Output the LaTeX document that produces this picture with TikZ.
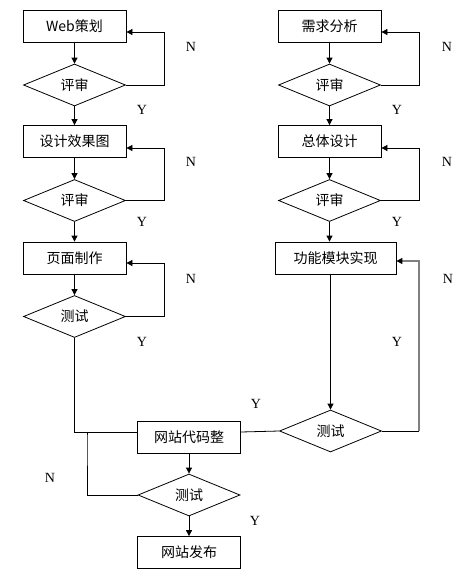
\documentclass[tikz,border=0pt]{standalone}
\usepackage{fontspec}
\setmainfont{Liberation Serif}
\newfontfamily\cjk{Noto Sans CJK SC}
\usetikzlibrary{shapes.geometric,arrows.meta}
\tikzset{
	box/.style={draw,rectangle,minimum width=103pt,minimum height=32pt,inner sep=0pt,font=\cjk\fontsize{14}{16}\selectfont},
	check/.style={draw,diamond,minimum width=102pt,minimum height=42pt,inner sep=0pt,font=\cjk\fontsize{14}{16}\selectfont},
	flow/.style={-{Triangle[length=6pt,width=6pt,color=black]}},
	yn/.style={font=\fontsize{14}{16}\selectfont}
}
\begin{document}
\begin{tikzpicture}[x=1pt,y=-1pt,line width=0.8pt]
	\useasboundingbox (0,0) rectangle (470,576);
	%left column
	\node[box] (plan) at (74.5,26.5) {Web策划};
	\node[check] (rev1) at (74.5,85) {评审};
	\node[box] (design) at (74.5,141.5) {设计效果图};
	\node[check] (rev2) at (74.5,200.5) {评审};
	\node[box] (page) at (74.5,258) {页面制作};
	\node[check] (test1) at (74.5,316.5) {测试};
	%right column
	\node[box] (need) at (329.5,26) {需求分析};
	\node[check] (rev3) at (329.5,85) {评审};
	\node[box] (arch) at (329.5,141.5) {总体设计};
	\node[check] (rev4) at (329.5,200.5) {评审};
	\node[box,minimum width=121pt] (func) at (335.5,258) {功能模块实现};
	\node[check] (test2) at (330.5,431) {测试};
	%bottom
	\node[box] (merge) at (189,437) {网站代码整};
	\node[check] (test3) at (189,495) {测试};
	\node[box] (pub) at (189,552.5) {网站发布};

	\draw[flow] (plan) -- (rev1);
	\draw[flow] (rev1) -- (design);
	\draw[flow] (design) -- (rev2);
	\draw[flow] (rev2) -- (page);
	\draw[flow] (page) -- (test1);
	\draw[flow] (rev1.east) -- ++(38,0) |- ([yshift=-5.5pt]plan.east);
	\draw[flow] (rev2.east) -- ++(38,0) |- ([yshift=-6.5pt]design.east);
	\draw[flow] (test1.east) -- ++(38,0) |- ([yshift=-5pt]page.east);

	\draw[flow] (need) -- (rev3);
	\draw[flow] (rev3) -- (arch);
	\draw[flow] (arch) -- (rev4);
	\draw[flow] (rev4.south) -- (rev4.south |- func.north);
	\draw[flow] (func.south -| test2.north) -- (test2.north);
	\draw[flow] (rev3.east) -- ++(38,0) |- ([yshift=-6pt]need.east);
	\draw[flow] (rev4.east) -- ++(38,0) |- ([yshift=-6.5pt]arch.east);
	\draw (test2.east) -- ++(37,0) coordinate (back);
	\draw[flow,draw=gray,line width=1.2pt] (back) |- ([yshift=-3pt]func.east);

	\draw (test1.south) |- ([yshift=5pt]merge.west);
	\draw (test2.west) -- ([yshift=5pt]merge.east);
	\draw (test3.west) -| ([xshift=12.5pt]test1.south |- merge.west) -- ++(0,-5);
	\draw[flow] (merge) -- (test3);
	\draw[flow] (test3) -- (pub);

	\node[yn] (n1) at (191,47) {N};
	\node[yn] (y1) at (142,110) {Y};
	\node[yn] (n2) at (191,162) {N};
	\node[yn] (y2) at (142,222) {Y};
	\node[yn] (n3) at (191,279) {N};
	\node[yn] (y3) at (142,342) {Y};
	\node[yn] (n4) at (447,47) {N};
	\node[yn] (y4) at (397,110) {Y};
	\node[yn] (n5) at (447,162) {N};
	\node[yn] (y5) at (397,222) {Y};
	\node[yn] (n6) at (448,279) {N};
	\node[yn] (y6) at (397,342) {Y};
	\node[yn] (y7) at (256,404) {Y};
	\node[yn] (n7) at (50,478) {N};
	\node[yn] (y8) at (255,521) {Y};
\end{tikzpicture}
\end{document}
